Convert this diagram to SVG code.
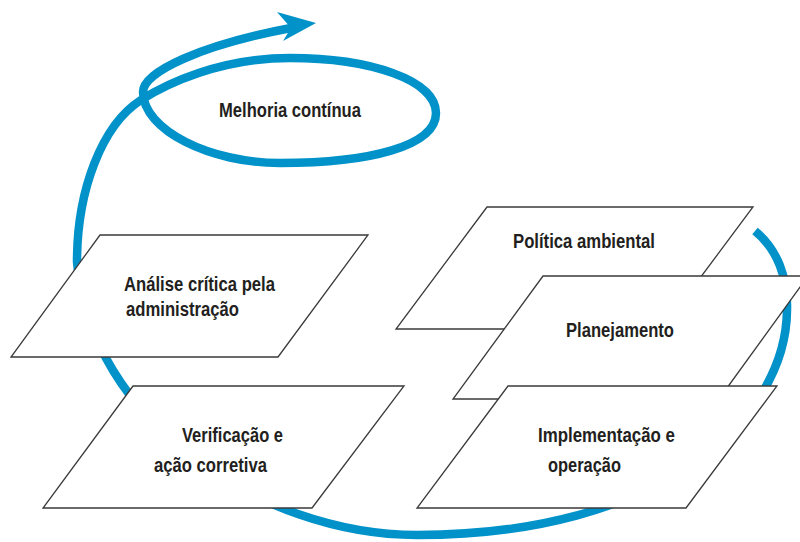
<svg xmlns="http://www.w3.org/2000/svg" width="800" height="542" viewBox="0 0 800 542">
<style>
.loop{fill:none;stroke:#0092c8;stroke-width:8.5;stroke-linecap:butt;stroke-linejoin:round}
.head{fill:#0092c8}
.box{fill:#ffffff;stroke:#3a3a3a;stroke-width:1.3}
.lbl{font-family:'Liberation Sans',Arial,sans-serif;font-weight:bold;font-size:19.5px;fill:#231f20}
</style>
<rect width="800" height="542" fill="#ffffff"/>
<g id="connectors">
<path class="loop" d="M 755,231 C 777,249 788,277 787,310 C 786,420 660,535 417,535 C 260,535 90,420 77,262 C 77,190 102,125 141,100 C 166,84 220,58 290,58 C 370,58 436,80 436,113 C 436,146 370,163 280,163 C 210,163 143,130 143,92 C 143,72 200,45 296,27"/>
<polygon class="head" points="277,12 316,23 283,41 291,28"/>
</g>
<g id="melhoria">
<text class="lbl" x="219" y="117" textLength="142" lengthAdjust="spacingAndGlyphs">Melhoria contínua</text>
</g>
<g id="analise">
<polygon class="box" points="100,235 368,235 278,357 11,357"/>
<text class="lbl" x="124" y="291" textLength="151" lengthAdjust="spacingAndGlyphs">Análise crítica pela</text>
<text class="lbl" x="126" y="316" textLength="113" lengthAdjust="spacingAndGlyphs">administração</text>
</g>
<g id="verificacao">
<polygon class="box" points="133,386 404,386 312,508 43,508"/>
<text class="lbl" x="182" y="442" textLength="101" lengthAdjust="spacingAndGlyphs">Verificação e</text>
<text class="lbl" x="154" y="472" textLength="113" lengthAdjust="spacingAndGlyphs">ação corretiva</text>
</g>
<g id="politica">
<polygon class="box" points="487,207 753,207 662,329 396,329"/>
<text class="lbl" x="513" y="248" textLength="142" lengthAdjust="spacingAndGlyphs">Política ambiental</text>
</g>
<g id="planejamento">
<polygon class="box" points="543,276 808,276 719,399 453,399"/>
<text class="lbl" x="566" y="337" textLength="108" lengthAdjust="spacingAndGlyphs">Planejamento</text>
</g>
<g id="implementacao">
<polygon class="box" points="508,386 777,386 686,508 417,508"/>
<text class="lbl" x="538" y="442" textLength="137" lengthAdjust="spacingAndGlyphs">Implementação e</text>
<text class="lbl" x="548" y="472" textLength="73" lengthAdjust="spacingAndGlyphs">operação</text>
</g>
</svg>
